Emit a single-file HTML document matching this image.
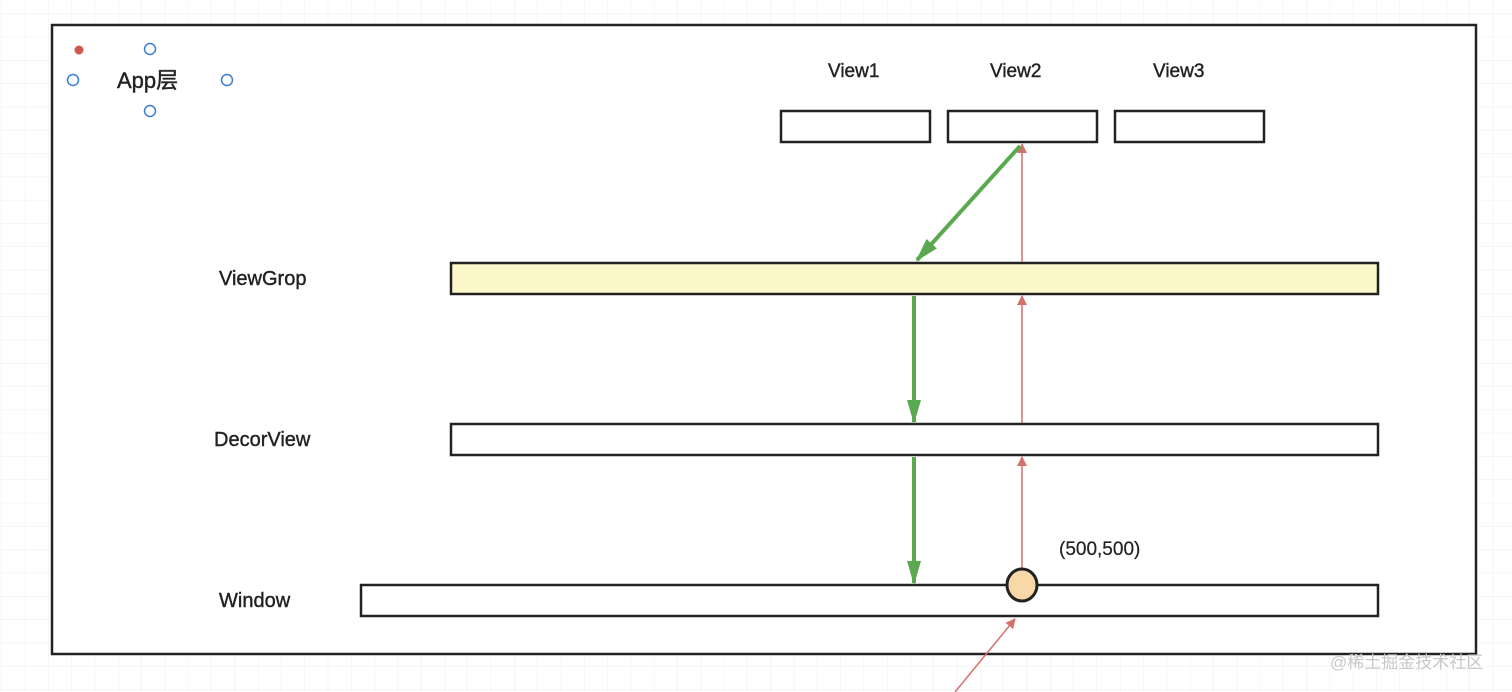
<!DOCTYPE html>
<html><head><meta charset="utf-8"><style>
html,body{margin:0;padding:0;background:#fff}
svg{display:block}
text{font-family:"Liberation Sans","Noto Sans CJK SC",sans-serif;fill:#222;stroke:#222;stroke-width:0.4}
</style></head><body>
<svg width="1512" height="692" viewBox="0 0 1512 692" xmlns="http://www.w3.org/2000/svg">
<defs>
<pattern id="g" width="23.3" height="23.3" patternUnits="userSpaceOnUse" x="2" y="14">
<path d="M23.3 0V23.3H0" fill="none" stroke="#ececec" stroke-width="1"/>
</pattern>
<marker id="ga" markerWidth="24" markerHeight="16" refX="22" refY="8" orient="auto" markerUnits="userSpaceOnUse" viewBox="0 0 24 16"><path d="M0,1L24,8L0,15z" fill="#5aa84f"/></marker>
<marker id="ra" markerWidth="10" markerHeight="10" refX="9" refY="5" orient="auto" markerUnits="userSpaceOnUse" viewBox="0 0 10 10"><path d="M0,0L10,5L0,10z" fill="#d6706c"/></marker>
</defs>
<rect width="1512" height="692" fill="url(#g)"/>
<rect x="52" y="25" width="1424" height="629" fill="#fff" stroke="#222" stroke-width="2.5"/>
<circle cx="79" cy="50" r="4.5" fill="#d0584e"/>
<g fill="none" stroke="#3a7bd5" stroke-width="1.5">
<circle cx="150" cy="49" r="5.5"/><circle cx="73" cy="80" r="5.5"/><circle cx="227" cy="80" r="5.5"/><circle cx="150" cy="111" r="5.5"/>
</g>
<text x="117" y="88" font-size="22">App层</text>
<text x="828" y="77" font-size="19">View1</text>
<text x="990" y="77" font-size="19">View2</text>
<text x="1153" y="77" font-size="19">View3</text>
<g fill="#fff" stroke="#222" stroke-width="2.5">
<rect x="781" y="111" width="149" height="31"/>
<rect x="948" y="111" width="149" height="31"/>
<rect x="1115" y="111" width="149" height="31"/>
<rect x="451" y="263" width="927" height="31" fill="#fdf8c9"/>
<rect x="451" y="424" width="927" height="31"/>
<rect x="361" y="585" width="1017" height="31"/>
</g>
<text x="219" y="285" font-size="20">ViewGrop</text>
<text x="214" y="446" font-size="20">DecorView</text>
<text x="219" y="607" font-size="20">Window</text>
<text x="1059" y="555" font-size="19" style="stroke-width:0.2">(500,500)</text>
<g stroke="#d6706c" stroke-width="1.5" fill="none">
<line x1="1022" y1="262" x2="1022" y2="144" marker-end="url(#ra)"/>
<line x1="1022" y1="423" x2="1022" y2="296" marker-end="url(#ra)"/>
<line x1="1022" y1="570" x2="1022" y2="457" marker-end="url(#ra)"/>
<line x1="955" y1="692" x2="1015" y2="619" marker-end="url(#ra)"/>
</g>
<g stroke="#5aa84f" stroke-width="4" fill="none">
<line x1="1020" y1="146" x2="917" y2="260" marker-end="url(#ga)"/>
<line x1="914" y1="296" x2="914" y2="422" marker-end="url(#ga)"/>
<line x1="914" y1="457" x2="914" y2="583" marker-end="url(#ga)"/>
</g>
<ellipse cx="1022" cy="585" rx="15" ry="16" fill="#f9d8a8" stroke="#222" stroke-width="3"/>
<text x="1330" y="668" font-size="17" style="fill:#c8c8c8;stroke:none">@稀土掘金技术社区</text>
</svg>
</body></html>
